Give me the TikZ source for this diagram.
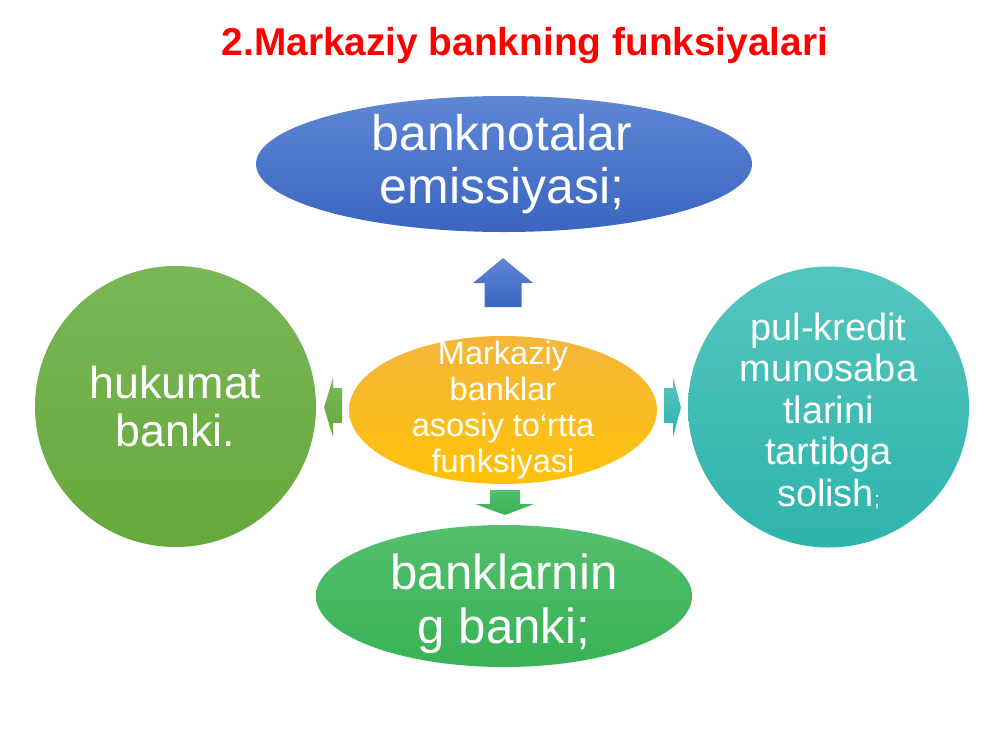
\documentclass[tikz,border=0pt]{standalone}
\usepackage{fontspec}
\setmainfont{Liberation Sans}
\usetikzlibrary{shapes.geometric,positioning}
\definecolor{titlered}{RGB}{255,0,0}
\definecolor{blueA}{RGB}{94,135,212}
\definecolor{blueB}{RGB}{58,101,192}
\definecolor{greenA}{RGB}{122,183,88}
\definecolor{greenB}{RGB}{102,168,60}
\definecolor{tealA}{RGB}{84,197,190}
\definecolor{tealB}{RGB}{46,180,172}
\definecolor{goldA}{RGB}{244,182,58}
\definecolor{goldB}{RGB}{255,194,10}
\definecolor{grnA}{RGB}{84,191,110}
\definecolor{grnB}{RGB}{56,178,84}

\begin{document}
\begin{tikzpicture}[x=0.2mm, y=-0.2mm,
   blob/.style={ellipse, inner sep=0pt},
   ball/.style={circle, inner sep=0pt, minimum size=56.2mm},
   txt/.style={text=white, align=center, inner sep=0pt}]
   \fill[white] (0,0) rectangle (1000,750);
   \useasboundingbox (0,0) rectangle (1000,750);
   \node[anchor=base, text=titlered, font=\bfseries\fontsize{22.1}{22}\selectfont] (title) at (525,55) {2.Markaziy bankning funksiyalari};
   \node[blob, minimum width=99.2mm, minimum height=27.2mm, top color=blueA, bottom color=blueB] (emis) at (504,164) {};
   \node[ball, top color=greenA, bottom color=greenB] (hukumat) at (175.5,406.5) {};
   \node[ball, top color=tealA, bottom color=tealB] (pulkredit) at (828.5,407) {};
   \node[blob, minimum width=61.6mm, minimum height=29.6mm, top color=goldA, bottom color=goldB] (markaz) at (503,410) {};
   \node[blob, minimum width=75.2mm, minimum height=28.4mm, top color=grnA, bottom color=grnB] (banklar) at (504,596) {};
   \begin{scope}[every node/.style={txt}]
    \node[font=\fontsize{28.4}{30}\selectfont] (emisT) at (502,164) {banknotalar\\emissiyasi;};
    \node[font=\fontsize{25.5}{27.3}\selectfont] (hukumatT) at (hukumat) {hukumat\\banki.};
    \node[font=\fontsize{21.6}{23.6}\selectfont] (pulkreditT) at (828.5,411) {pul-kredit\\munosaba\\tlarini\\tartibga\\solish{\fontsize{12}{12}\selectfont;}};
    \node[font=\fontsize{18.5}{20.5}\selectfont] (markazT) at (markaz) {Markaziy\\banklar\\asosiy to‘rtta\\funksiyasi};
    \node[font=\fontsize{28}{31}\selectfont] (banklarT) at (504,604) {banklarnin\\g banki;};
   \end{scope}
   \shade[top color=blueA, bottom color=blueB] (484.5,307) -- (484.5,283) -- (473,283) -- (503,258) -- (533,283) -- (521.5,283) -- (521.5,307) -- cycle;
   \shade[top color=greenA, bottom color=greenB] (342,388) -- (333,388) -- (333,378) -- (324,407.5) -- (333,437) -- (333,423) -- (342,423) -- cycle;
   \shade[top color=tealA, bottom color=tealB] (664,388) -- (673,388) -- (673,377) -- (681,407.5) -- (673,437) -- (673,423) -- (664,423) -- cycle;
   \shade[top color=grnA, bottom color=grnB] (490,490) -- (520,490) -- (520,504) -- (534,504) -- (505,515) -- (475,504) -- (490,504) -- cycle;
\end{tikzpicture}
\end{document}
